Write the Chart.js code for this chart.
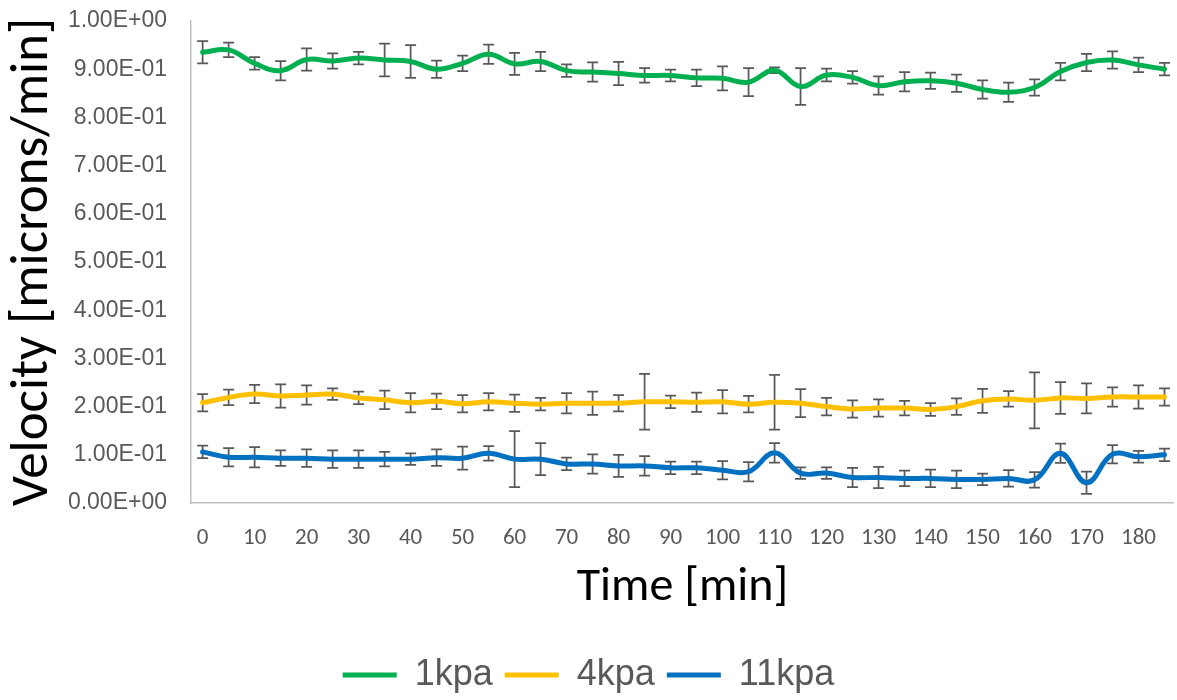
<!DOCTYPE html>
<html>
<head>
<meta charset="utf-8">
<script src="https://cdn.jsdelivr.net/npm/chart.js@4.4.1/dist/chart.umd.min.js"></script>
<style>
  html, body { margin: 0; padding: 0; background: #ffffff; }
  #wrap { width: 1177px; height: 700px; }
</style>
</head>
<body>
<div id="wrap"><canvas id="c" width="1177" height="700"></canvas></div>
<script>
// ---- data ----
const times = [0,5,10,15,20,25,30,35,40,45,50,55,60,65,70,75,80,85,90,95,100,105,110,115,120,125,130,135,140,145,150,155,160,165,170,175,180,185];
const xTicks = [0,10,20,30,40,50,60,70,80,90,100,110,120,130,140,150,160,170,180];
const yTicks = [0,0.1,0.2,0.3,0.4,0.5,0.6,0.7,0.8,0.9,1.0];
const seriesNames = ['1kpa','4kpa','11kpa'];

const kpa1 = [0.935,0.940,0.912,0.897,0.920,0.917,0.923,0.919,0.916,0.900,0.912,0.931,0.911,0.916,0.897,0.894,0.891,0.887,0.887,0.882,0.881,0.873,0.898,0.864,0.888,0.883,0.866,0.874,0.876,0.871,0.858,0.852,0.862,0.895,0.914,0.919,0.909,0.900];
const kpa1Err = [0.023,0.015,0.013,0.020,0.023,0.016,0.013,0.034,0.034,0.018,0.016,0.020,0.023,0.020,0.013,0.020,0.024,0.015,0.012,0.017,0.025,0.029,0.006,0.038,0.013,0.013,0.019,0.020,0.017,0.018,0.019,0.020,0.017,0.018,0.018,0.018,0.015,0.013];

const kpa4 = [0.208,0.219,0.226,0.222,0.224,0.226,0.218,0.214,0.208,0.211,0.206,0.210,0.207,0.205,0.207,0.207,0.207,0.210,0.210,0.209,0.210,0.205,0.209,0.207,0.200,0.195,0.197,0.197,0.194,0.200,0.212,0.216,0.213,0.218,0.217,0.220,0.220,0.220];
const kpa4Err = [0.018,0.016,0.019,0.024,0.020,0.012,0.013,0.019,0.020,0.016,0.018,0.018,0.018,0.013,0.021,0.024,0.017,0.058,0.013,0.020,0.024,0.017,0.057,0.029,0.018,0.018,0.018,0.015,0.013,0.017,0.025,0.016,0.058,0.033,0.031,0.020,0.024,0.018];

const kpa11 = [0.106,0.095,0.095,0.093,0.093,0.091,0.091,0.091,0.091,0.094,0.093,0.103,0.091,0.091,0.081,0.081,0.077,0.077,0.073,0.073,0.068,0.065,0.104,0.062,0.062,0.053,0.053,0.051,0.051,0.049,0.049,0.051,0.048,0.103,0.042,0.101,0.096,0.100];
const kpa11Err = [0.013,0.019,0.021,0.016,0.018,0.018,0.018,0.015,0.012,0.017,0.024,0.015,0.058,0.033,0.013,0.020,0.023,0.020,0.013,0.013,0.019,0.020,0.020,0.012,0.012,0.020,0.022,0.016,0.018,0.018,0.012,0.017,0.016,0.020,0.023,0.019,0.012,0.013];

const seriesValues = [kpa1, kpa4, kpa11];
const seriesErrors = [kpa1Err, kpa4Err, kpa11Err];
const seriesColors = ['#00B050', '#FFC000', '#0070C0'];

// ---- helpers ----
function sci(v) {
  const s = Number(v).toExponential(2);
  const parts = s.split('e');
  const sign = parts[1][0];
  const digits = parts[1].slice(1).padStart(2, '0');
  return parts[0] + 'E' + sign + digits;
}

const errorBarPlugin = {
  id: 'errorBars',
  beforeDatasetsDraw(chart) {
    const ctx = chart.ctx;
    const xs = chart.scales.x, ys = chart.scales.y;
    ctx.save();
    ctx.strokeStyle = '#595959';
    ctx.lineWidth = 1.75;
    chart.data.datasets.forEach((ds, di) => {
      const vals = seriesValues[di], errs = seriesErrors[di];
      vals.forEach((v, i) => {
        const px = xs.getPixelForValue(times[i]);
        const top = ys.getPixelForValue(v + errs[i]);
        const bot = ys.getPixelForValue(v - errs[i]);
        ctx.beginPath();
        ctx.moveTo(px, top); ctx.lineTo(px, bot);
        ctx.moveTo(px - 5.5, top); ctx.lineTo(px + 5.5, top);
        ctx.moveTo(px - 5.5, bot); ctx.lineTo(px + 5.5, bot);
        ctx.stroke();
      });
    });
    ctx.restore();
  }
};

const PLOT_BOTTOM = 503;
const PAD_BOTTOM = -3;

function build() {
  const datasets = seriesNames.map((name, di) => ({
    label: name,
    data: times.map((t, i) => ({ x: t, y: seriesValues[di][i] })),
    borderColor: seriesColors[di],
    backgroundColor: seriesColors[di],
    borderWidth: 5,
    pointRadius: 0,
    pointHoverRadius: 0,
    tension: 0.4,
    fill: false,
    borderCapStyle: 'round',
    borderJoinStyle: 'round',
    clip: false
  }));

  new Chart(document.getElementById('c'), {
    type: 'line',
    data: { datasets },
    plugins: [errorBarPlugin],
    options: {
      responsive: false,
      devicePixelRatio: 1,
      animation: false,
      events: [],
      layout: { padding: { left: 0, right: 0, top: 21, bottom: PAD_BOTTOM } },
      plugins: {
        tooltip: { enabled: false },
        legend: {
          display: true,
          position: 'bottom',
          labels: {
            boxWidth: 54,
            boxHeight: 5,
            padding: 12,
            color: '#595959',
            font: { family: "'Liberation Sans', Arial, sans-serif", size: 36, lineHeight: 1 },
            generateLabels(chart) {
              return chart.data.datasets.map((ds, i) => ({
                text: ds.label,
                fillStyle: seriesColors[i],
                strokeStyle: seriesColors[i],
                lineWidth: 0,
                fontColor: '#595959',
                datasetIndex: i,
                hidden: false
              }));
            }
          }
        }
      },
      scales: {
        x: {
          type: 'linear',
          min: -2.24,
          max: 186.8,
          grid: { display: false, drawTicks: false },
          border: { display: true, color: '#BFBFBF', width: 1.5 },
          afterBuildTicks(scale) { scale.ticks = xTicks.map(v => ({ value: v })); },
          afterFit(scale) {
            const lh = scale.chart.legend ? scale.chart.legend.height : 0;
            scale.height = 700 - PAD_BOTTOM - PLOT_BOTTOM - lh;
          },
          ticks: {
            autoSkip: false,
            maxRotation: 0,
            padding: 21,
            color: '#595959',
            font: { family: "Carlito, Lato, sans-serif", size: 23 },
            callback: (v) => String(v)
          },
          title: {
            display: true,
            text: 'Time [min]',
            color: '#000000',
            font: { family: "Carlito, Lato, sans-serif", size: 48, lineHeight: 1 },
            padding: { top: 0, bottom: 33 }
          }
        },
        y: {
          type: 'linear',
          min: 0,
          max: 1,
          grid: { display: false, drawTicks: false },
          border: { display: true, color: '#BFBFBF', width: 1.5 },
          afterBuildTicks(scale) { scale.ticks = yTicks.map(v => ({ value: v })); },
          afterFit(scale) {
            scale.width = 191;
            scale.paddingTop = 0;
            scale.paddingBottom = 0;
          },
          ticks: {
            padding: 24,
            color: '#595959',
            font: { family: "'Liberation Sans', Arial, sans-serif", size: 23 },
            callback: (v) => sci(v)
          },
          title: {
            display: true,
            text: 'Velocity [microns/min]',
            color: '#000000',
            font: { family: "Carlito, Lato, sans-serif", size: 53, lineHeight: 1 },
            padding: { top: 7, bottom: 0 }
          }
        }
      }
    }
  });
}

const fontLoads = [
  '46px Lato', '20px Lato', '20px "Liberation Sans"', '32px "Liberation Sans"'
].map(f => document.fonts.load(f).catch(() => null));
Promise.all(fontLoads).then(build, build);
</script>
</body>
</html>
